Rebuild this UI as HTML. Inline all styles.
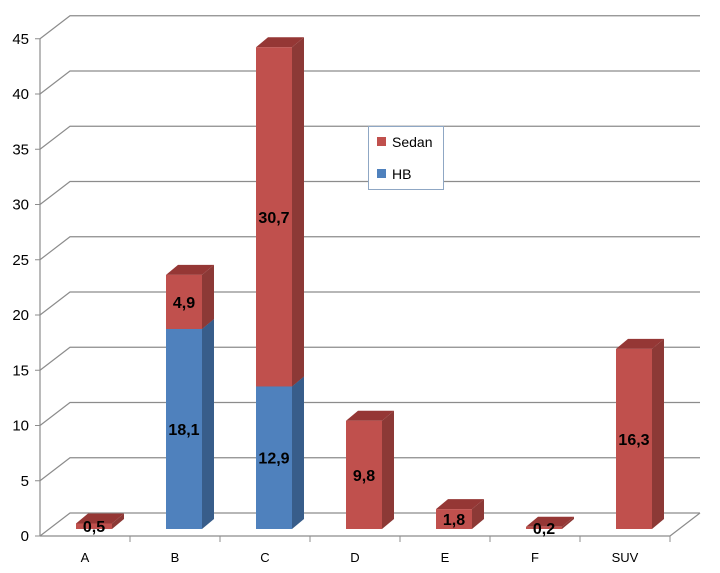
<!DOCTYPE html>
<html><head><meta charset="utf-8"><style>
body{margin:0;background:#fff;}
svg{display:block;font-family:"Liberation Sans",sans-serif;}
</style></head><body>
<svg id="c" width="720" height="573"></svg>
<script>
const categories=["A","B","C","D","E","F","SUV"];
const hbValues=[0,18.1,12.9,0,0,0,0];
const sedanValues=[0.5,4.9,30.7,9.8,1.8,0.2,16.3];
const yTicks=[0,5,10,15,20,25,30,35,40,45];
const NS="http://www.w3.org/2000/svg";
const svg=document.getElementById('c');
const X0=40,CW=90,FRONT0=536,BASE=529,K=11.05,DX=30,DY=-23,BW=36,BDX=12,BDY=-10;
function y(v){return BASE-v*K;}
function gy(v){return FRONT0-v*K;}
function mk(t,a,name){const e=document.createElementNS(NS,t);for(const k in a)e.setAttribute(k,a[k]);


svg.appendChild(e);return e;}
const right=X0+CW*categories.length;
yTicks.forEach(v=>{
 mk('polyline',{points:`${X0},${gy(v)} ${X0+DX},${gy(v)+DY} ${right+DX},${gy(v)+DY}`,fill:'none',stroke:'#8c8c8c','stroke-width':1.2},'gridline');
 const t=mk('text',{x:29,y:gy(v)+5,'text-anchor':'end','font-size':15,fill:'#000'},'y-tick-label');t.textContent=v;
 mk('line',{x1:X0-5,y1:gy(v),x2:X0,y2:gy(v),stroke:'#8c8c8c'},'y-tick');
});
mk('line',{x1:X0,y1:gy(0),x2:X0,y2:gy(45),stroke:'#8c8c8c','stroke-width':1.2},'y-axis');
mk('polyline',{points:`${X0},${gy(0)} ${right},${gy(0)} ${right+DX},${gy(0)+DY}`,fill:'none',stroke:'#8c8c8c','stroke-width':1.2},'floor-edge');
categories.forEach((c,i)=>{
 mk('line',{x1:X0+CW*(i+1),y1:gy(0),x2:X0+CW*(i+1),y2:gy(0)+6,stroke:'#8c8c8c'},'x-tick');
 const t=mk('text',{x:X0+CW*i+CW/2,y:562,'text-anchor':'middle','font-size':13,fill:'#000'},'x-tick-label');t.textContent=c;
});
function seg(i,v0,v1,front,side,top,name){
 const x=X0+CW*i+36,y0=y(v0),y1=y(v1);
 mk('polygon',{points:`${x+BW},${y0} ${x+BW+BDX},${y0+BDY} ${x+BW+BDX},${y1+BDY} ${x+BW},${y1}`,fill:side},name+'-side');
 mk('polygon',{points:`${x},${y1} ${x+BDX},${y1+BDY} ${x+BW+BDX},${y1+BDY} ${x+BW},${y1}`,fill:top},name+'-top');
 mk('rect',{x:x,y:y1,width:BW,height:y0-y1,fill:front},name);
}
categories.forEach((c,i)=>{
 const h=hbValues[i],s=sedanValues[i];
 if(h>0)seg(i,0,h,'#4f81bd','#385d8a','#3c6594','bar-hb-'+c.toLowerCase());
 if(s>0)seg(i,h,h+s,'#c0504d','#8c3936','#953735','bar-sedan-'+c.toLowerCase());
});
categories.forEach((c,i)=>{
 const h=hbValues[i],s=sedanValues[i],cx=X0+CW*i+36+BW/2;
 if(h>0){const t=mk('text',{x:cx,y:y(h/2)+6,'text-anchor':'middle','font-size':16,'font-weight':'bold',fill:'#000'},'value-label-hb');t.textContent=String(h).replace('.',',');}
 if(s>0){const t=mk('text',{x:cx,y:y(h+s/2)+6,'text-anchor':'middle','font-size':16,'font-weight':'bold',fill:'#000'},'value-label-sedan');t.textContent=String(s).replace('.',',');}
});
mk('rect',{x:368.5,y:126.5,width:75,height:63,fill:'#fff',stroke:'#8fa7c4'},'legend');
mk('rect',{x:377,y:137,width:9,height:9,fill:'#c0504d'},'legend-swatch-sedan');
let t=mk('text',{x:392,y:147,'font-size':14,fill:'#000'},'legend-label-sedan');t.textContent='Sedan';
mk('rect',{x:377,y:169,width:9,height:9,fill:'#4f81bd'},'legend-swatch-hb');
t=mk('text',{x:392,y:179,'font-size':14,fill:'#000'},'legend-label-hb');t.textContent='HB';
</script>
</body></html>
